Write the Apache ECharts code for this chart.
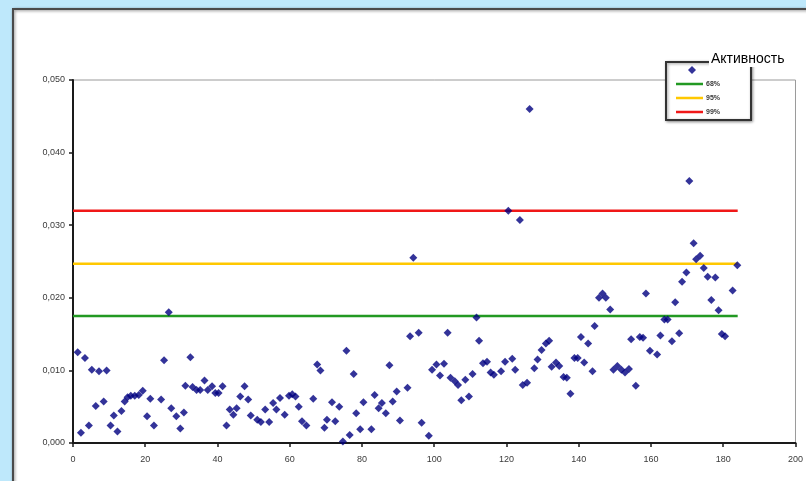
<!DOCTYPE html>
<html>
<head>
<meta charset="utf-8">
<script src="https://cdn.jsdelivr.net/npm/echarts@6/dist/echarts.min.js"></script>
<style>
  html, body { margin: 0; padding: 0; background: #BEE8FB; }
  #chart { width: 806px; height: 481px; }
</style>
</head>
<body>
<div id="chart"></div>
<script>
// Scatter points: day index (x) and activity (y)
const xs = [1.3,2.2,3.3,4.4,5.2,6.3,7.2,8.5,9.3,10.4,
  11.3,12.3,13.4,14.3,15.1,16,17.1,18.2,19.3,20.5,
  21.4,22.4,24.4,25.2,26.5,27.2,28.6,29.7,30.7,31.1,
  32.5,33.1,34.2,35.2,36.4,37.3,38.5,39.4,40.3,41.4,
  42.5,43.4,44.4,45.3,46.3,47.5,48.5,49.2,51,52,
  53.2,54.3,55.4,56.3,57.3,58.6,59.8,60.7,61.6,62.5,
  63.4,64.6,66.5,67.6,68.5,69.6,70.3,71.7,72.6,73.7,
  74.7,75.7,76.6,77.7,78.4,79.5,80.4,82.6,83.5,84.6,
  85.5,86.6,87.6,88.5,89.6,90.5,92.6,93.3,94.2,95.7,
  96.5,98.5,99.4,100.6,101.6,102.7,103.7,104.5,105.7,106.6,
  107.5,108.6,109.6,110.6,111.7,112.4,113.5,114.6,115.6,116.5,
  118.5,119.6,120.5,121.6,122.4,123.7,124.5,125.7,126.4,127.7,
  128.6,129.7,130.9,131.8,132.5,133.7,134.6,135.8,136.7,137.7,
  138.8,139.7,140.6,141.5,142.6,143.8,144.4,145.6,146.6,147.5,
  148.7,149.6,150.7,151.8,152.8,153.9,154.5,155.8,156.9,157.8,
  158.6,159.7,161.7,162.6,163.7,164.6,165.8,166.7,167.8,168.6,
  169.8,170.6,171.8,172.5,173.6,174.6,175.7,176.7,177.8,178.7,
  179.6,180.5,182.6,183.9];
const ys = [.0125,.0014,.0117,.0024,.0101,.0051,.0099,.0057,.0100,.0024,
  .0038,.0016,.0044,.0057,.0063,.0065,.0065,.0066,.0072,.0037,
  .0061,.0024,.0060,.0114,.0180,.0048,.0037,.0020,.0042,.0079,
  .0118,.0077,.0073,.0073,.0086,.0073,.0078,.0069,.0069,.0078,
  .0024,.0046,.0039,.0048,.0064,.0078,.0060,.0038,.0032,.0029,
  .0046,.0029,.0055,.0046,.0062,.0039,.0065,.0067,.0064,.0050,
  .0030,.0024,.0061,.0108,.0100,.0021,.0032,.0056,.0030,.0050,
  .0002,.0127,.0011,.0095,.0041,.0019,.0056,.0019,.0066,.0048,
  .0055,.0041,.0107,.0057,.0071,.0031,.0076,.0147,.0255,.0152,
  .0028,.0010,.0101,.0108,.0093,.0109,.0152,.0090,.0085,.0080,
  .0059,.0087,.0064,.0095,.0173,.0141,.0110,.0112,.0097,.0094,
  .0099,.0112,.0320,.0116,.0101,.0307,.0080,.0083,.0460,.0103,
  .0115,.0128,.0137,.0141,.0105,.0111,.0106,.0091,.0090,.0068,
  .0117,.0117,.0146,.0111,.0137,.0099,.0161,.0200,.0206,.0200,
  .0184,.0101,.0106,.0101,.0097,.0102,.0143,.0079,.0146,.0145,
  .0206,.0127,.0122,.0148,.0170,.0170,.0140,.0194,.0151,.0222,
  .0235,.0361,.0275,.0253,.0258,.0241,.0229,.0197,.0228,.0183,
  .0150,.0147,.0210,.0245];

// Confidence levels (horizontal lines)
const levelNames = ['68%', '95%', '99%'];
const levelValues = [0.0175, 0.0247, 0.0320];
const levelColors = ['#229922', '#FFC800', '#F01818'];
const levelStart = 0;
const levelEnd = 184;

const seriesName = 'Активность';

// Axis settings
const xMin = 0, xMax = 200, xStep = 20;
const yMin = 0, yMax = 0.05, yStep = 0.01;

const chart = echarts.init(document.getElementById('chart'), null, { renderer: 'canvas' });

const series = [];
levelNames.forEach((n, i) => {
  series.push({
    name: n,
    type: 'line',
    symbol: 'none',
    data: [[levelStart, levelValues[i]], [levelEnd, levelValues[i]]],
    lineStyle: { color: levelColors[i], width: 2.5 },
    itemStyle: { color: levelColors[i] },
    z: 2,
    silent: true
  });
});
series.push({
  name: seriesName,
  type: 'scatter',
  symbol: 'diamond',
  symbolSize: [8, 8],
  data: xs.map((x, i) => [x, ys[i]]),
  itemStyle: { color: '#000080' },
  z: 3
});

const lblFont = 'Liberation Sans, Arial, sans-serif';
// Legend icon shapes inside a 27x8 box (corner points fix the box)
const diamondIcon = 'path://M0,0L0.01,0L0,0.01Z M16,0L20,4L16,8L12,4Z M27,8L26.99,8L27,7.99Z';
const lineIcon = 'path://M0,0L0.01,0L0,0.01Z M0,2.8H27V5.2H0Z M27,8L26.99,8L27,7.99Z';

chart.setOption({
  animation: false,
  backgroundColor: '#BEE8FB',
  textStyle: { fontFamily: lblFont },
  graphic: [
    {
      type: 'rect', z: -100,
      shape: { x: 13, y: 9, width: 820, height: 500 },
      style: { fill: '#ffffff', stroke: '#4a4a4a', lineWidth: 2,
               shadowBlur: 3, shadowColor: 'rgba(0,0,0,0.45)', shadowOffsetX: 1, shadowOffsetY: 1 }
    },
    {
      type: 'text', z: 100, zlevel: 1,
      left: 709, top: 51,
      style: { text: seriesName, fontSize: 14, fontFamily: lblFont, fill: '#000',
               backgroundColor: '#ffffff', padding: [1, 2, 1, 2] }
    }
  ],
  grid: {
    left: 73, right: 7, top: 80, bottom: 38,
    show: true, borderColor: '#9a9a9a', borderWidth: 1, backgroundColor: 'transparent'
  },
  legend: {
    orient: 'vertical',
    left: 666, top: 62,
    padding: [4, 31, 4, 10],
    itemWidth: 27, itemHeight: 8, itemGap: 6,
    backgroundColor: '#ffffff',
    borderColor: '#333333', borderWidth: 2,
    shadowBlur: 3, shadowColor: 'rgba(0,0,0,0.4)', shadowOffsetX: 1, shadowOffsetY: 1,
    textStyle: { fontSize: 7, fontWeight: 'bold', color: '#3a3a3a', fontFamily: lblFont, padding: [0, 0, 0, -2] },
    formatter: name => (name === seriesName ? '' : name),
    data: [{ name: seriesName, icon: diamondIcon, itemStyle: { color: '#000080', borderWidth: 0 } }]
      .concat(levelNames.map((n, i) => ({ name: n, icon: lineIcon, itemStyle: { color: levelColors[i], borderWidth: 0 } }))),
    selectedMode: false
  },
  xAxis: {
    type: 'value', min: xMin, max: xMax, interval: xStep,
    axisLine: { show: true, onZero: false, lineStyle: { color: '#1a1a1a', width: 2 } },
    axisTick: { show: true, length: 4, lineStyle: { color: '#1a1a1a', width: 1.5 } },
    axisLabel: { fontSize: 9, color: '#3a3a3a', margin: 12, fontFamily: lblFont },
    splitLine: { show: false }
  },
  yAxis: {
    type: 'value', min: yMin, max: yMax, interval: yStep,
    axisLine: { show: true, onZero: false, lineStyle: { color: '#1a1a1a', width: 2 } },
    axisTick: { show: true, length: 4, lineStyle: { color: '#1a1a1a', width: 1.5 } },
    axisLabel: { fontSize: 9, color: '#3a3a3a', margin: 8, fontFamily: lblFont,
                 formatter: v => v.toFixed(3).replace('.', ',') },
    splitLine: { show: false }
  },
  series: series
});
</script>
</body>
</html>
